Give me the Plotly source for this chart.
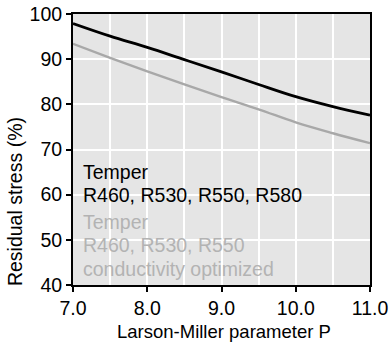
import plotly.graph_objects as go

P = [7.0, 7.5, 8.0, 8.5, 9.0, 9.5, 10.0, 10.5, 11.0]
stress_temper = [97.9, 95.1, 92.6, 89.9, 87.2, 84.4, 81.7, 79.5, 77.6]
stress_cond_opt = [93.4, 90.3, 87.3, 84.4, 81.6, 78.9, 76.0, 73.6, 71.4]
x_ticks = [7.0, 8.0, 9.0, 10.0, 11.0]
y_ticks = [40, 50, 60, 70, 80, 90, 100]

FONT = "Liberation Sans, Arial, sans-serif"
FS = 19.5
BLACK_TXT = "#000000"
GRAY_TXT = "#b3b3b3"

fig = go.Figure()
fig.add_trace(go.Scatter(x=P, y=stress_cond_opt, mode="lines",
                         line=dict(color="#a8a8a8", width=2.4, shape="spline", smoothing=1.0),
                         showlegend=False, hoverinfo="skip"))
fig.add_trace(go.Scatter(x=P, y=stress_temper, mode="lines",
                         line=dict(color="#000000", width=2.8, shape="spline", smoothing=1.0),
                         showlegend=False, hoverinfo="skip"))

lines = [
    ("Temper", BLACK_TXT, 171.5),
    ("R460, R530, R550, R580", BLACK_TXT, 195),
    ("Temper", GRAY_TXT, 221.5),
    ("R460, R530, R550", GRAY_TXT, 245),
    ("conductivity optimized", GRAY_TXT, 268.5),
]
top, bottom = 14, 285
for txt, col, ypx in lines:
    fig.add_annotation(x=0.028, y=(bottom - ypx) / (bottom - top), xref="paper", yref="paper",
                       text=txt, showarrow=False, xanchor="left", yanchor="middle",
                       font=dict(family=FONT, size=FS, color=col))

fig.add_annotation(x=-0.195, y=(bottom - 202) / (bottom - top), xref="paper", yref="paper",
                   text="Residual stress (%)", textangle=-90, showarrow=False,
                   xanchor="center", yanchor="middle",
                   font=dict(family=FONT, size=FS, color="black"))

fig.add_annotation(x=0.51, y=(bottom - 331) / (bottom - top), xref="paper", yref="paper",
                   text="Larson-Miller parameter P", showarrow=False,
                   xanchor="center", yanchor="middle",
                   font=dict(family=FONT, size=18.5, color="black"))

fig.update_layout(
    width=391, height=343,
    margin=dict(l=73, r=21, t=14, b=58, autoexpand=False),
    paper_bgcolor="white",
    plot_bgcolor="#e5e5e5",
    font=dict(family=FONT, size=FS, color="black"),
    xaxis=dict(range=[7.0, 11.0], tickvals=x_ticks, ticktext=[f"{v:.1f}" for v in x_ticks],
               showgrid=True, gridcolor="white", gridwidth=2,
               minor=dict(dtick=0.5, showgrid=True, gridcolor="white", gridwidth=2, tick0=7.0),
               showline=True, linecolor="black", linewidth=2, mirror=True,
               ticks="outside", ticklen=5, tickwidth=2, tickcolor="black",
               ticklabelstandoff=0, automargin=False,
               zeroline=False),
    yaxis=dict(range=[40, 100], tickvals=y_ticks, automargin=False,
               showgrid=True, gridcolor="white", gridwidth=2,
               showline=True, linecolor="black", linewidth=2, mirror=True,
               ticks="outside", ticklen=5, tickwidth=2, tickcolor="black",
               zeroline=False),
)

fig.write_html("out.html")
